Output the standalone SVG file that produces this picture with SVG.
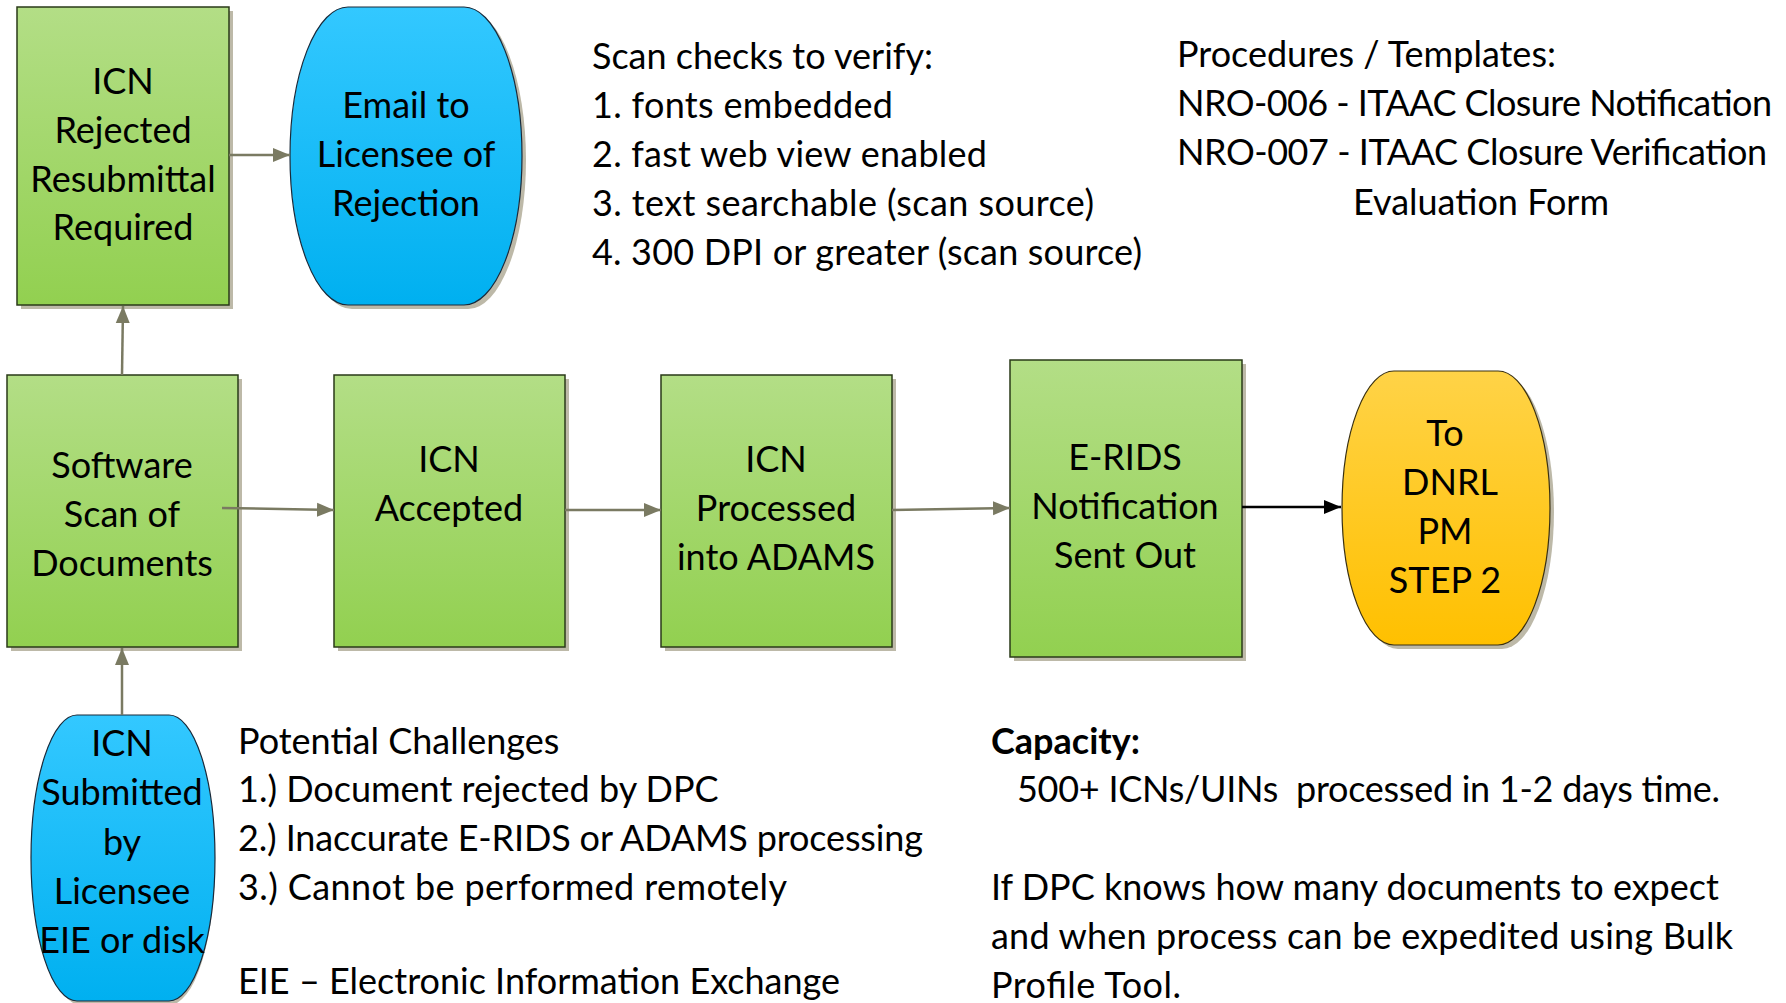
<svg xmlns="http://www.w3.org/2000/svg" width="1786" height="1003" viewBox="0 0 1786 1003">
<style>
text{font-family:Lato,"Liberation Sans",sans-serif;font-size:36px;fill:#000}
.c{text-anchor:middle}
.b{font-weight:bold}
.box{fill:url(#gGreen);stroke:#2a3a18;stroke-width:1.5}
.blue{fill:url(#gBlue);stroke:#1a2a3a;stroke-width:1.2}
.orange{fill:url(#gOrange);stroke:#3a3010;stroke-width:1.2}
.sh{fill:#bdb9a8}
.con{stroke:#7a7a62;stroke-width:2.5;fill:none;marker-end:url(#arr)}
.conk{stroke:#000;stroke-width:2.5;fill:none;marker-end:url(#arrk)}
</style>
<defs>
<linearGradient id="gGreen" x1="0" y1="0" x2="0" y2="1"><stop offset="0" stop-color="#b3de86"/><stop offset="1" stop-color="#92d050"/></linearGradient>
<linearGradient id="gBlue" x1="0" y1="0" x2="0" y2="1"><stop offset="0" stop-color="#33c8ff"/><stop offset="1" stop-color="#00b0f0"/></linearGradient>
<linearGradient id="gOrange" x1="0" y1="0" x2="0" y2="1"><stop offset="0" stop-color="#ffd347"/><stop offset="1" stop-color="#ffc000"/></linearGradient>
<marker id="arr" markerUnits="userSpaceOnUse" markerWidth="18" markerHeight="16" refX="17" refY="8" orient="auto"><path d="M0,1 L17,8 L0,15 Z" fill="#7a7a62"/></marker>
<marker id="arrk" markerUnits="userSpaceOnUse" markerWidth="18" markerHeight="16" refX="17" refY="8" orient="auto"><path d="M0,1 L17,8 L0,15 Z" fill="#000"/></marker>
</defs>
<rect width="1786" height="1003" fill="#fff"/>

<g id="icn-rejected">
<rect class="sh" x="21" y="11" width="212" height="298"/>
<rect class="box" x="17" y="7" width="212" height="298"/>
<text class="c" x="123" y="94">ICN</text>
<text class="c" x="123" y="143">Rejected</text>
<text class="c" x="123" y="192">Resubmittal</text>
<text class="c" x="123" y="240">Required</text>
</g>

<g id="email-licensee">
<path class="sh" d="M352,11 H468 A58,149 0 0 1 468,309 H352 A58,149 0 0 1 352,11 Z"/>
<path class="blue" d="M348,7 H464 A58,149 0 0 1 464,305 H348 A58,149 0 0 1 348,7 Z"/>
<text class="c" x="406" y="118">Email to</text>
<text class="c" x="406" y="167">Licensee of</text>
<text class="c" x="406" y="216">Rejection</text>
</g>

<g id="software-scan">
<rect class="sh" x="11" y="379" width="231" height="272"/>
<rect class="box" x="7" y="375" width="231" height="272"/>
<text class="c" x="122" y="478">Software</text>
<text class="c" x="122" y="527">Scan of</text>
<text class="c" x="122" y="576">Documents</text>
</g>

<g id="icn-accepted">
<rect class="sh" x="338" y="379" width="231" height="272"/>
<rect class="box" x="334" y="375" width="231" height="272"/>
<text class="c" x="449" y="472">ICN</text>
<text class="c" x="449" y="521">Accepted</text>
</g>

<g id="icn-processed">
<rect class="sh" x="665" y="379" width="231" height="272"/>
<rect class="box" x="661" y="375" width="231" height="272"/>
<text class="c" x="776" y="472">ICN</text>
<text class="c" x="776" y="521">Processed</text>
<text class="c" x="776" y="570">into ADAMS</text>
</g>

<g id="erids">
<rect class="sh" x="1014" y="364" width="232" height="297"/>
<rect class="box" x="1010" y="360" width="232" height="297"/>
<text class="c" x="1125" y="470">E-RIDS</text>
<text class="c" x="1125" y="519">Notification</text>
<text class="c" x="1125" y="568">Sent Out</text>
</g>

<g id="to-dnrl">
<path class="sh" d="M1398,375 H1502 A52,137 0 0 1 1502,649 H1398 A52,137 0 0 1 1398,375 Z"/>
<path class="orange" d="M1394,371 H1498 A52,137 0 0 1 1498,645 H1394 A52,137 0 0 1 1394,371 Z"/>
<text class="c" x="1445" y="446">To</text>
<text class="c" x="1450" y="495">DNRL</text>
<text class="c" x="1445" y="544">PM</text>
<text class="c" x="1445" y="593">STEP 2</text>
</g>

<g id="icn-submitted">
<path class="sh" d="M81,719 H169 A46,143 0 0 1 169,1005 H81 A46,143 0 0 1 81,719 Z"/>
<path class="blue" d="M77,715 H169 A46,143 0 0 1 169,1001 H77 A46,143 0 0 1 77,715 Z"/>
<text class="c" x="122" y="756">ICN</text>
<text class="c" x="122" y="805">Submitted</text>
<text class="c" x="122" y="855">by</text>
<text class="c" x="122" y="904">Licensee</text>
<text class="c" x="122" y="953">EIE or disk</text>
</g>

<g id="scan-checks">
<text x="592" y="69">Scan checks to verify:</text>
<text x="592" y="118" textLength="301">1. fonts embedded</text>
<text x="592" y="167" textLength="395">2. fast web view enabled</text>
<text x="592" y="216" textLength="502">3. text searchable (scan source)</text>
<text x="592" y="265" textLength="550">4. 300 DPI or greater (scan source)</text>
</g>

<g id="procedures">
<text x="1177" y="67">Procedures / Templates:</text>
<text x="1177" y="116" textLength="595">NRO-006 - ITAAC Closure Notification</text>
<text x="1177" y="165" textLength="590">NRO-007 - ITAAC Closure Verification</text>
<text x="1353" y="215">Evaluation Form</text>
</g>

<g id="challenges">
<text x="238" y="754">Potential Challenges</text>
<text x="238" y="802">1.) Document rejected by DPC</text>
<text x="238" y="851" textLength="685">2.) Inaccurate E-RIDS or ADAMS processing</text>
<text x="238" y="900" textLength="549">3.) Cannot be performed remotely</text>
<text x="238" y="994">EIE – Electronic Information Exchange</text>
</g>

<g id="capacity">
<text class="b" x="991" y="754">Capacity:</text>
<text x="1017" y="802" style="white-space:pre" textLength="703">500+ ICNs/UINs  processed in 1-2 days time.</text>
<text x="991" y="900">If DPC knows how many documents to expect</text>
<text x="991" y="949" textLength="742">and when process can be expedited using Bulk</text>
<text x="991" y="998" textLength="190">Profile Tool.</text>
</g>

<g id="connectors">
<line class="con" x1="229" y1="155" x2="290" y2="155"/>
<line class="con" x1="122" y1="375" x2="123" y2="306"/>
<line class="con" x1="122" y1="715" x2="122" y2="648"/>
<line class="con" x1="222" y1="508" x2="334" y2="510"/>
<line class="con" x1="565" y1="510" x2="661" y2="510"/>
<line class="con" x1="892" y1="510" x2="1010" y2="508"/>
<line class="conk" x1="1242" y1="507" x2="1341" y2="507"/>
</g>
</svg>
